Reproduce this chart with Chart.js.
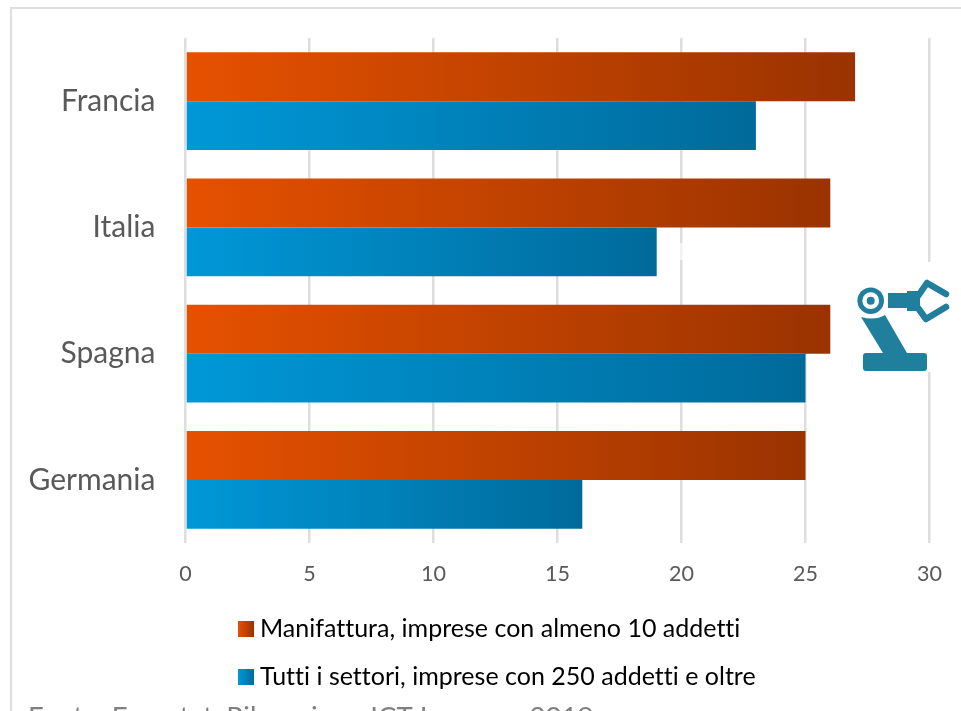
<!DOCTYPE html>
<html>
<head>
<meta charset="utf-8">
<style>
  html, body { margin: 0; padding: 0; background: #fff; overflow: hidden; }
  canvas { display: block; }
</style>
</head>
<body>
<canvas id="chart" width="961" height="711"></canvas>
<script src="https://cdn.jsdelivr.net/npm/chart.js@4/dist/chart.umd.min.js"></script>
<script>
const categories = ['Francia', 'Italia', 'Spagna', 'Germania'];
const manifattura = [27, 26, 26, 25];
const tuttiSettori = [23, 19, 25, 16];
const seriesNames = ['Manifattura, imprese con almeno 10 addetti', 'Tutti i settori, imprese con 250 addetti e oltre'];
const sourceNote = 'Fonte: Eurostat, Rilevazione ICT Imprese, 2019';

const orange = ['#e65100', '#9a3300'];
const blue = ['#0098d8', '#006a9a'];
const fontName = 'Lato, "Open Sans", sans-serif';

// every bar gets its own left-to-right gradient
function barGradient(context, colors) {
    const chart = context.chart;
    if (!chart.chartArea || !Number.isFinite(context.raw)) return colors[0];
    const x = chart.scales.x;
    const x0 = x.getPixelForValue(0);
    const x1 = x.getPixelForValue(context.raw);
    if (!Number.isFinite(x0) || !Number.isFinite(x1)) return colors[0];
    const grad = chart.ctx.createLinearGradient(x0, 0, x1, 0);
    grad.addColorStop(0, colors[0]);
    grad.addColorStop(1, colors[1]);
    return grad;
}

function drawRobot(ctx) {
    const teal = '#1f7f9c';
    // the picture covers the last gridline here
    ctx.fillStyle = '#fff';
    ctx.fillRect(925, 262, 9, 110);

    ctx.fillStyle = teal;
    ctx.beginPath();
    ctx.roundRect(863, 353, 64, 18, 3);
    ctx.fill();

    ctx.beginPath();
    ctx.moveTo(861, 317);
    ctx.quadraticCurveTo(875, 321, 885, 315);
    ctx.lineTo(907, 353);
    ctx.lineTo(883, 353);
    ctx.closePath();
    ctx.fill();

    ctx.beginPath();
    ctx.arc(870.7, 300.7, 13.3, 0, Math.PI * 2);
    ctx.fill();
    ctx.fillStyle = '#fff';
    ctx.beginPath();
    ctx.arc(870.7, 300.7, 8.4, 0, Math.PI * 2);
    ctx.fill();
    ctx.fillStyle = teal;
    ctx.beginPath();
    ctx.arc(870.7, 300.7, 4, 0, Math.PI * 2);
    ctx.fill();

    ctx.fillRect(888, 293, 20, 15);
    ctx.fillRect(907, 291, 13, 20);

    ctx.strokeStyle = teal;
    ctx.lineWidth = 6.5;
    ctx.lineCap = 'round';
    ctx.lineJoin = 'round';
    ctx.beginPath();
    ctx.moveTo(946, 294);
    ctx.lineTo(927, 283);
    ctx.lineTo(918, 296);
    ctx.moveTo(946, 307);
    ctx.lineTo(926, 319);
    ctx.lineTo(918, 308);
    ctx.stroke();
}

const framePlugin = {
    id: 'frame',
    afterLayout(chart) {
        // legend rows are left aligned on the swatches, not centred
        chart.legend.left = 215;
        chart.legend.top = 593.5;
    },
    beforeDraw(chart) {
        const ctx = chart.ctx;
        ctx.save();
        ctx.fillStyle = '#fff';
        ctx.fillRect(0, 0, 961, 711);
        ctx.fillStyle = '#dedede';
        ctx.fillRect(10, 7, 951, 2);
        ctx.fillRect(10, 7, 2, 704);
        ctx.restore();
        // a tiny spacing keeps Lato from joining "tt" and "ti"
        ctx.letterSpacing = '0.01px';
    },
    afterDraw(chart) {
        const ctx = chart.ctx;
        ctx.save();
        [orange, blue].forEach((colors, i) => {
            const top = 621 + i * 48;
            const grad = ctx.createLinearGradient(238, 0, 254, 0);
            grad.addColorStop(0, colors[0]);
            grad.addColorStop(1, colors[1]);
            ctx.fillStyle = grad;
            ctx.fillRect(238, top, 16, 16);
        });
        // faint white smudge on the gridline at 20
        ctx.fillStyle = 'rgba(255,255,255,0.6)';
        ctx.fillRect(679, 243, 4, 17);
        drawRobot(ctx);
        ctx.fillStyle = '#7f7f7f';
        ctx.font = '27.6px ' + fontName;
        ctx.textBaseline = 'alphabetic';
        ctx.fillText(sourceNote, 28, 726);
        ctx.restore();
    }
};

new Chart(document.getElementById('chart'), {
    type: 'bar',
    data: {
        labels: categories,
        datasets: [
            { label: seriesNames[0], data: manifattura, backgroundColor: (c) => barGradient(c, orange) },
            { label: seriesNames[1], data: tuttiSettori, backgroundColor: (c) => barGradient(c, blue) }
        ]
    },
    options: {
        indexAxis: 'y',
        responsive: false,
        animation: false,
        layout: { padding: { top: 38, right: 31.5, left: 0, bottom: 13 } },
        datasets: { bar: { barPercentage: 1, categoryPercentage: 0.775 } },
        scales: {
            x: {
                min: 0,
                max: 30,
                afterFit(scale) { scale.height = 49; },
                border: { display: false },
                grid: { color: '#dedede', lineWidth: 2.5, drawTicks: false },
                ticks: { stepSize: 5, padding: 18, maxRotation: 0, color: '#595959', font: { family: fontName, size: 21.5 } }
            },
            y: {
                afterFit(scale) {
                    scale.width = 185.5;
                    scale.paddingTop = 0;
                    scale.paddingBottom = 0;
                },
                border: { display: false },
                grid: { display: false },
                ticks: { padding: 22, color: '#595959', font: { family: fontName, size: 30 } }
            }
        },
        plugins: {
            tooltip: { enabled: false },
            legend: {
                position: 'bottom',
                align: 'start',
                labels: { boxWidth: 9.5, boxHeight: 16, padding: 23, color: '#000', font: { family: fontName, size: 25 } }
            }
        }
    },
    plugins: [framePlugin]
});
</script>
</body>
</html>
